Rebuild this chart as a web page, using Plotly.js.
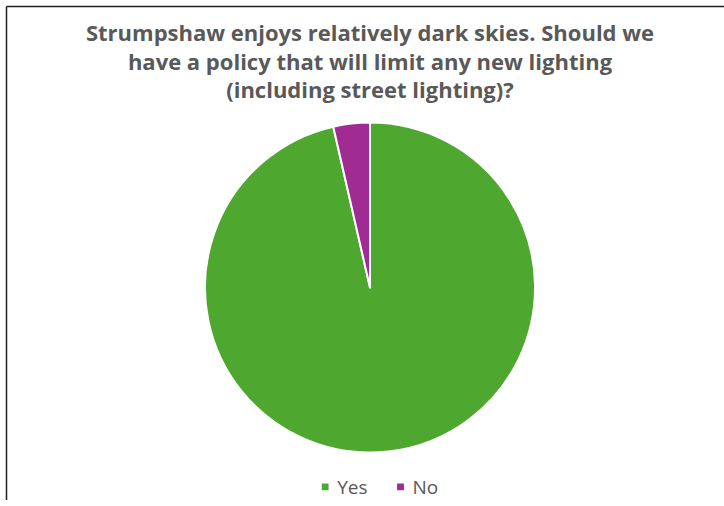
<!DOCTYPE html>
<html>
<head>
<meta charset="utf-8">
<script src="https://cdn.plot.ly/plotly-3.0.1.min.js"></script>
<style>
  html, body { margin: 0; padding: 0; background: #ffffff; }
  #chart { width: 724px; height: 506px; }
</style>
</head>
<body>
<div id="chart"></div>
<script>
// Survey answers on limiting new lighting in Strumpshaw
const answers = ['Yes', 'No'];
const responses = [27, 1];
const sliceColours = ['#4EA72E', '#A02B93'];
const chartTitle = 'Strumpshaw enjoys relatively dark skies. Should we<br>have a policy that will limit any new lighting<br>(including street lighting)?';

const W = 724, H = 506;
// pie placement in pixels: centre and radius
const cx = 370, cy = 291, r = 167;

const trace = {
  type: 'pie',
  labels: answers,
  values: responses,
  marker: { colors: sliceColours, line: { color: '#ffffff', width: 2 } },
  sort: false,
  direction: 'clockwise',
  rotation: 0,
  textinfo: 'none',
  hoverinfo: 'label+value+percent',
  domain: {
    x: [(cx - r) / W, (cx + r) / W],
    y: [(H - cy - r) / H, (H - cy + r) / H]
  }
};

const layout = {
  width: W,
  height: H,
  margin: { l: 0, r: 0, t: 0, b: 0 },
  paper_bgcolor: '#ffffff',
  plot_bgcolor: '#ffffff',
  title: {
    text: chartTitle,
    x: 370 / W,
    xanchor: 'center',
    xref: 'paper',
    y: 1 - 41 / H,
    yanchor: 'top',
    yref: 'container',
    font: { family: '"Open Sans", "DejaVu Sans", sans-serif', size: 22, color: '#595959', weight: 'bold' }
  },
  showlegend: true,
  legend: {
    orientation: 'h',
    x: 0.523,
    xanchor: 'center',
    y: (H - 493) / H,
    yanchor: 'middle',
    font: { family: '"Open Sans", "DejaVu Sans", sans-serif', size: 19, color: '#595959' },
    itemwidth: 30,
    bgcolor: 'rgba(0,0,0,0)'
  },
  shapes: [
    // frame edges along the top and left
    { type: 'line', xref: 'paper', yref: 'paper', x0: 6.5 / W, x1: 1, y0: 1 - 6.5 / H, y1: 1 - 6.5 / H,
      line: { color: '#1f1f1f', width: 1.5 } },
    { type: 'line', xref: 'paper', yref: 'paper', x0: 6.5 / W, x1: 6.5 / W, y0: 0, y1: 1 - 6.5 / H,
      line: { color: '#1f1f1f', width: 1.5 } }
  ]
};

Plotly.newPlot('chart', [trace], layout, { staticPlot: true, displayModeBar: false }).then(function (gd) {
  // smaller legend swatches, label pulled closer to its swatch
  gd.querySelectorAll('.legend .traces').forEach(function (item) {
    item.querySelectorAll('.legendpoints path').forEach(function (p) {
      p.setAttribute('transform', 'translate(20,0) scale(0.68)');
    });
    const label = item.querySelector('.legendtext');
    if (label) label.setAttribute('x', String(parseFloat(label.getAttribute('x')) - 8));
  });
});
</script>
</body>
</html>
